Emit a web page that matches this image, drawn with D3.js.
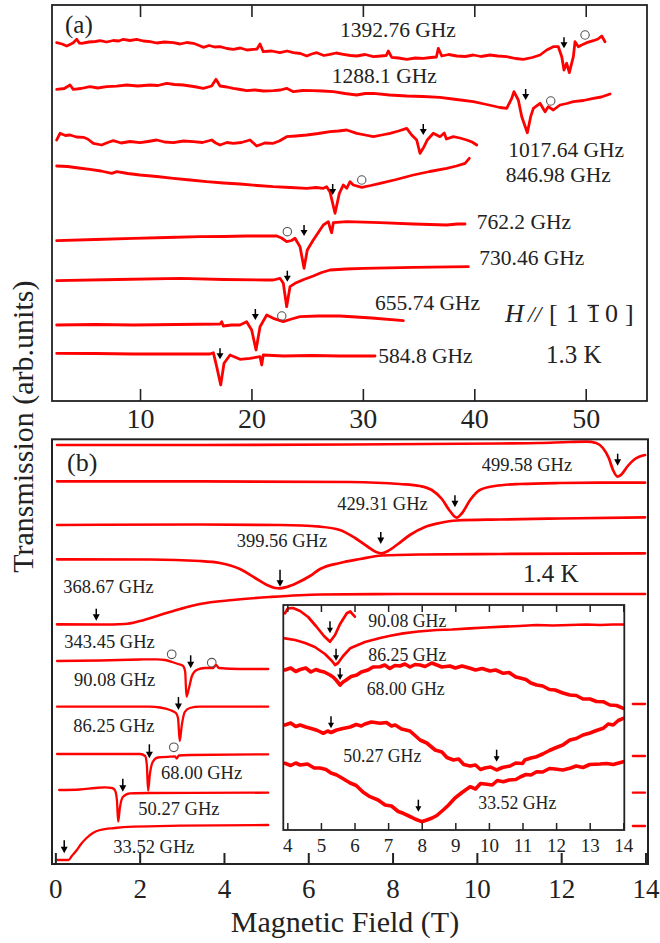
<!DOCTYPE html>
<html><head><meta charset="utf-8">
<script src="https://cdn.jsdelivr.net/npm/d3@7"></script>
<style>
body{margin:0;background:#fff}
svg{display:block}
text{font-family:"Liberation Serif","Times New Roman",serif;fill:#222}
</style>
</head><body><svg id="c" width="660" height="943"></svg>
<script>
// ---------------- DATA ----------------
// Panel (a): field (T), transmission (arb. units, offset per trace)
const aLabels = ["1392.76 GHz","1288.1 GHz","1017.64 GHz","846.98 GHz","762.2 GHz","730.46 GHz","655.74 GHz","584.8 GHz"];
const aTicks = [10,20,30,40,50];
const a1392 = [[2.52,358.3],[3.0,357],[3.42,355],[3.8,357],[4.01,358.3],[4.32,361.7],[4.55,358],[4.77,357.7],[5.4,359],[6.0,359.5],[6.41,360.3],[7.0,359],[7.6,360.5],[8.1,360],[8.5,361.7],[9.1,360.5],[9.7,361.7],[10.3,360],[10.9,359.3],[11.5,358],[12.2,359],[12.99,358.3],[13.6,357],[14.2,358.5],[14.78,357.7],[15.2,356],[15.68,353.7],[16.2,355.5],[16.7,354],[17.18,354.3],[17.8,352.5],[18.37,351.7],[19.0,353],[19.6,351],[20.17,351.7],[20.5,352],[20.77,357],[21.06,349.3],[21.8,350],[22.56,348.3],[23.2,350],[23.76,348.3],[24.4,347.5],[24.96,345],[25.4,347],[25.86,348.3],[26.5,345.5],[27.05,346.7],[27.6,348],[28.24,346.7],[28.9,345.5],[29.45,345],[30.2,346.5],[30.94,344.3],[31.6,345],[32.1,345.5],[32.28,350],[32.59,343.7],[33.2,343],[33.94,341.7],[34.7,343],[35.42,342.7],[36.1,343.5],[36.6,344],[36.77,352.7],[37.08,345],[37.7,346.5],[38.42,345],[39.2,344.5],[39.91,346],[40.6,344.5],[41.41,346],[42.1,345],[42.91,344.3],[43.7,342.5],[44.40,341.7],[45.2,343.5],[45.90,346],[46.50,351],[47.09,354.3],[47.54,354.3],[47.85,344.3],[48.05,331],[48.29,337.7],[48.53,328.3],[48.89,344.3],[49.04,359.3],[49.34,354.3],[49.64,356],[50.09,358.3],[50.68,360.3],[51.1,362],[51.44,365],[51.73,359.3]];
const a1288 = [[2.52,311.7],[3.2,312.5],[3.72,316],[4.01,311.7],[4.7,312.5],[5.51,314.3],[6.2,313],[7.01,314.3],[7.9,314.8],[8.80,316],[9.8,315],[10.90,316],[11.6,315.5],[12.39,317.7],[13.1,316.5],[13.88,316],[14.8,314.5],[15.68,312.7],[16.43,315],[16.82,321.7],[17.18,315],[17.8,314],[18.37,312.7],[19.0,311.5],[19.57,310.3],[20.3,311],[21.1,310],[21.96,310.3],[22.6,311],[23.16,312.7],[23.76,309.3],[24.6,310.5],[25.55,310.3],[26.4,310],[27.35,309.3],[28.4,307.5],[29.45,306],[30.2,307.5],[30.94,307.7],[32.4,306],[33.94,305],[35.4,304.5],[36.92,303.7],[38.4,301.5],[39.91,299.3],[40.9,297],[41.71,295],[42.3,293.5],[42.91,292.7],[43.36,302.7],[43.56,309.3],[43.95,301],[44.26,284.3],[44.76,268.3],[45.06,284.3],[45.30,292.7],[45.90,297.7],[46.35,289.3],[46.64,294.3],[47.09,291],[47.69,296],[48.3,297.5],[48.89,299.3],[49.8,300.5],[50.68,302.7],[51.4,304],[52.18,307]];
const a1017 = [[2.52,261],[2.82,267.7],[3.3,265.5],[3.72,266],[4.3,264],[4.91,263.7],[5.3,262],[5.81,257.7],[6.56,256],[7.1,258.5],[7.60,260.3],[8.3,258],[9.1,259.5],[10.0,258.3],[10.7,259.5],[11.5,261],[12.2,259],[12.99,258.3],[13.9,260],[14.78,259.3],[15.6,258.5],[16.43,261],[16.8,258],[17.18,256],[17.8,258.5],[18.37,257.7],[19.1,258.5],[19.87,261],[20.47,255],[21.2,258],[21.96,257.7],[22.5,260],[23.16,264.3],[24.0,265],[24.96,266],[26.0,267.5],[27.05,269.3],[27.8,270],[28.55,271],[29.45,267.7],[30.2,266],[30.94,264.3],[31.7,266],[32.44,267.7],[33.2,270],[33.94,272.7],[34.38,266],[34.83,261],[35.13,247.7],[35.49,254.3],[35.78,261],[36.32,267.7],[36.92,264.3],[37.3,268],[37.5,262],[38.12,264.3],[38.7,263],[39.32,261],[39.8,259],[40.22,256]];
const a847 = [[2.52,235],[3.5,234.5],[4.5,233],[5.51,231.7],[6.5,230],[7.46,227.7],[7.91,229.3],[8.9,227.5],[10.0,226],[11.5,224.5],[12.99,222.7],[14.5,221],[15.98,219.3],[17.5,218],[18.97,217],[20.5,215.5],[21.96,214.3],[23.5,213.5],[24.96,212.7],[25.8,213.5],[26.45,212.7],[26.75,214.3],[27.05,209],[27.50,187.7],[27.89,207.7],[28.24,216],[28.55,212.7],[28.85,219.3],[29.14,216],[29.90,213.7],[30.7,215.5],[31.54,217.7],[33.0,221.5],[34.53,226],[36.0,229.5],[37.52,232.7],[38.4,235],[39.17,237.7],[39.55,242.7]];
const a762 = [[2.52,160.3],[6.0,161.5],[9.40,162.7],[12.4,163.5],[15.38,164.3],[17.5,164.5],[19.57,165],[21.0,165],[22.27,165],[22.7,163],[23.16,159.3],[23.6,160.5],[23.91,162.7],[24.36,154.3],[24.72,132.7],[25.01,151],[25.55,161],[26.0,168.5],[26.45,176],[26.90,179.3],[27.08,172],[27.20,168.3],[27.35,178.3],[28.55,179.3],[31.54,178.3],[34.53,177],[37.52,176],[38.5,177],[39.17,177]];
const a730 = [[2.52,120.3],[8.0,121.5],[13.59,122.7],[17.5,121.5],[21.37,121],[21.96,121],[22.56,122.7],[22.86,117.7],[23.16,94.3],[23.46,114.3],[23.91,117.7],[24.7,121.5],[25.55,125],[26.3,128.5],[27.05,131],[28.5,132],[30.04,132.7],[34.53,133.7],[39.46,134.3]];
const a656 = [[2.52,76],[6.0,76.5],[9.40,76],[13.3,76.5],[17.18,77],[17.33,79.3],[17.47,75],[18.2,76],[18.97,76],[19.57,79.3],[20.02,71],[20.41,51],[20.77,74.3],[21.37,86],[21.96,82.7],[22.86,79.3],[23.6,82],[24.36,84.3],[26.0,85],[27.95,85],[30.8,83],[33.63,80.3]];
const a585 = [[2.52,47.7],[6.0,47.5],[9.40,47],[12.8,47],[16.28,47],[16.58,48.3],[16.88,34.3],[17.24,16],[17.54,37.7],[18.08,46],[18.97,41.7],[19.87,42.7],[20.77,44.3],[20.92,36],[21.06,46],[22.86,45],[25.4,45.5],[27.95,45],[31.09,45]];
const aArrows = [[48.05,352.7],[44.61,301],[35.42,266],[27.29,206],[24.72,165],[23.22,119.3],[20.35,81],[17.18,41.7]];
const aCircles = [[49.94,366],[46.86,300],[29.90,221],[23.22,169.3],[22.72,85]];

// Panel (b) main
const bLabels = ["499.58 GHz","429.31 GHz","399.56 GHz","368.67 GHz","343.45 GHz","90.08 GHz","86.25 GHz","68.00 GHz","50.27 GHz","33.52 GHz"];
const bTicks = [0,2,4,6,8,10,12,14];
const b500 = [[0.04,419],[3.43,419],[6.99,419.5],[10.54,420.5],[11.49,421],[12.21,422],[12.60,422.3],[12.83,421],[12.99,416],[13.13,406],[13.23,394],[13.34,387.3],[13.44,390],[13.58,398],[13.75,405],[13.99,409]];
const b429 = [[0.04,382.7],[3.43,382.7],[6.99,382],[8.17,380],[8.65,378],[8.93,374],[9.17,365],[9.36,353],[9.52,346.3],[9.65,351],[9.84,364],[10.07,374],[10.43,378],[11.02,380],[11.97,381],[12.92,381.3],[13.99,381.3]];
const b400 = [[0.04,339],[3.43,339.5],[5.33,339],[6.28,337.3],[6.75,334],[7.11,326],[7.42,317],[7.61,312],[7.74,310.7],[7.89,313],[8.13,320],[8.41,329],[8.77,337],[9.12,341],[9.52,343.5],[10.55,344.5],[11.97,345.5],[13.99,346.7]];
const b369 = [[0.04,304.7],[2.24,304.5],[3.43,303],[3.90,301],[4.38,295],[4.74,286],[5.02,279],[5.21,276],[5.33,275.7],[5.49,277],[5.73,281],[6.04,288],[6.28,295],[6.75,301],[7.23,305],[7.74,308.5],[8.65,309.5],[10.55,310],[13.99,310.7]];
const b343 = [[0.04,239.7],[1.06,239.5],[1.65,240],[2.01,243],[2.48,249],[2.96,255],[3.43,260],[4.21,264],[5.09,267],[6.28,269.5],[8.17,270],[10.55,270],[13.99,270]];
const b90 = [[0.04,203],[1.06,203.5],[2.01,204.5],[2.41,204.7],[2.60,204],[2.77,202],[2.91,200],[3.03,198],[3.08,192],[3.11,167.3],[3.17,176],[3.24,188],[3.35,194],[3.55,196],[3.74,196],[3.81,199],[3.88,196],[4.38,195],[5.05,195]];
const b86 = [[0.04,157.3],[2.24,157.3],[2.48,156.5],[2.72,154],[2.86,151],[2.91,146],[2.95,123],[3.00,139],[3.07,152],[3.19,156],[3.43,157.3],[5.05,157.3],null,[13.70,160],[13.99,160]];
const b68 = [[0.04,110],[2.01,110],[2.13,108],[2.17,99],[2.20,73.3],[2.24,89],[2.31,102],[2.43,106.5],[2.72,107.3],[2.84,107.5],[2.88,105.5],[2.93,108.5],[3.19,109],[5.05,109.7],null,[13.70,108],[13.99,108]];
const b50 = [[0.09,74],[0.58,74.5],[0.94,76],[1.18,76.7],[1.34,76],[1.41,74],[1.46,64],[1.49,42.3],[1.53,56],[1.60,67],[1.77,70.7],[2.24,71],[5.05,71.3],null,[13.70,71.3],[13.99,71.3]];
const b34 = [[0.05,4],[0.31,4],[0.39,8],[0.51,14],[0.61,20],[0.74,26],[0.89,31],[1.06,34],[1.41,36],[1.85,37.3],[2.96,38.3],[5.05,39],null,[13.70,38],[13.99,38]];
const bArrows = [[13.34,398.3,12],[9.48,356.7,12],[7.72,320,12],[5.33,277.3,17],[0.97,243.3,12],[3.21,195.7,13],[2.92,154,13],[2.23,105.7,14],[1.60,72.3,13],[0.21,10.7,13]];
const bCircles = [[2.76,209.7],[3.71,201.3],[2.81,116.7]];

// Inset
const iTicks = [4,5,6,7,8,9,10,11,12,13,14];
const i90 = [[3.93,216.7],[4.02,221.7],[4.17,222],[4.38,219],[4.62,213],[4.85,204],[5.09,194],[5.27,188.3],[5.42,195],[5.57,206],[5.77,216.7],[5.87,218.5],[6.01,213.3]];
const i86 = [[3.93,191.7],[4.23,190],[4.53,187],[4.82,183],[5.12,176],[5.33,169],[5.42,165],[5.51,167],[5.66,174],[5.87,181.7],[6.31,188],[6.76,192],[7.1,194.5],[7.45,196.7],[7.9,198.5],[8.45,200],[8.9,200.5],[9.44,201.7],[9.9,202.5],[10.43,203.3],[10.9,204],[11.42,205],[11.9,204.5],[12.41,205],[12.9,205.5],[13.31,205],[13.7,205.5],[14.0,205.5]];
const i68 = [[3.93,160],[4.1,162],[4.25,158.5],[4.38,160.5],[4.55,162],[4.7,158],[4.85,160.5],[4.97,159],[5.1,158],[5.27,155],[5.36,153],[5.45,150],[5.57,145],[5.66,148],[5.75,150],[5.9,153.5],[6.07,155],[6.2,158],[6.4,160],[6.55,163],[6.76,163.3],[6.9,165],[7.05,161.5],[7.2,164.5],[7.35,164],[7.5,166],[7.65,163],[7.8,165.5],[7.95,165],[8.1,163.5],[8.3,167],[8.45,165],[8.6,163],[8.84,164],[9.0,162],[9.2,164],[9.44,161.7],[9.6,160],[9.8,161.5],[10.03,159],[10.2,160],[10.43,156.7],[10.6,157.5],[10.8,153],[10.93,152],[11.1,150.5],[11.25,147],[11.42,145],[11.6,144],[11.8,140.5],[11.97,140],[12.2,137],[12.41,135],[12.6,134.5],[12.8,131],[13.01,131],[13.2,128.5],[13.4,128.3],[13.6,125],[13.8,124.5],[14.0,121.7]];
const i50 = [[3.93,105],[4.1,107],[4.25,103.5],[4.38,105],[4.55,103],[4.76,101],[4.9,99.5],[5.07,96.7],[5.2,99],[5.3,97.5],[5.47,100],[5.65,101.5],[5.87,103],[6.05,105.5],[6.2,104],[6.31,106],[6.5,108],[6.76,106.7],[6.95,107.5],[7.1,104],[7.21,105],[7.4,101],[7.65,99],[7.8,94.5],[7.95,90],[8.15,87],[8.4,80],[8.6,78],[8.75,72.5],[8.94,70],[9.1,71],[9.25,65.5],[9.44,64],[9.6,65],[9.75,60.5],[9.88,62],[10.05,63],[10.23,60],[10.4,62.5],[10.63,64],[10.8,67],[11.0,66.5],[11.07,70],[11.25,72],[11.42,73.3],[11.6,76],[11.8,79.5],[11.97,82],[12.2,85],[12.41,90],[12.6,91.5],[12.8,95],[13.01,97],[13.2,99.5],[13.4,101.7],[13.55,106],[13.7,105],[13.85,109.5],[14.0,111.7]];
const i34 = [[3.93,66.7],[4.1,64.5],[4.25,67],[4.38,65],[4.6,66],[4.8,62],[4.97,62],[5.15,60.5],[5.3,57],[5.47,55],[5.65,51.5],[5.87,47],[6.05,44.5],[6.25,38],[6.46,33.3],[6.7,30],[6.91,25],[7.1,24],[7.3,18.5],[7.45,16.7],[7.65,13.5],[7.8,11],[8.0,8.3],[8.15,10],[8.31,12],[8.45,14.5],[8.64,20],[8.8,25],[8.99,32],[9.2,37.5],[9.44,43.3],[9.6,41],[9.75,46.5],[9.88,46],[10.1,45],[10.25,49.5],[10.43,48.3],[10.6,50],[10.8,50.5],[10.93,53],[11.1,55.5],[11.25,55],[11.42,58.3],[11.6,58],[11.8,61.5],[11.97,61],[12.2,60],[12.41,61.7],[12.6,64],[12.8,62.5],[13.0,65.5],[13.31,66],[13.5,66.5],[13.7,65.5],[14.0,68.3]];
const iArrows = [[5.27,196.7],[5.45,169.3],[5.57,150],[5.30,101.7],[10.23,68.3],[7.90,18.3]];

// ---------------- DRAW ----------------
const svg = d3.select("#c");
const RED = "#ff0000";

const xA = d3.scaleLinear().domain([2.1, 55.5]).range([52, 647]);
const yA = d3.scaleLinear().domain([0, 396]).range([401, 5]);
const xB = d3.scaleLinear().domain([-0.08, 14.06]).range([52, 648]);
const yB = d3.scaleLinear().domain([0, 425]).range([864, 439]);
const xI = d3.scaleLinear().domain([3.88, 14.03]).range([283.3, 624.3]);
const yI = d3.scaleLinear().domain([0, 225]).range([830, 605]);

function trace(g, data, xs, ys, w, curve) {
  g.append("path").datum(data)
    .attr("fill","none").attr("stroke",RED).attr("stroke-width",w)
    .attr("stroke-linejoin","round").attr("stroke-linecap","round")
    .attr("d", d3.line().defined(d => d !== null).x(d => xs(d[0])).y(d => ys(d[1])).curve(curve || d3.curveLinear));
}
function arrow(g, x, yTip, len, hw, hh) {
  g.append("line").attr("x1",x).attr("x2",x).attr("y1",yTip-len).attr("y2",yTip-hh+1)
    .attr("stroke","#000").attr("stroke-width",1.5);
  g.append("path").attr("d",`M${x-hw},${yTip-hh}L${x+hw},${yTip-hh}L${x},${yTip}Z`).attr("fill","#000");
}
function circ(g, x, y, r) {
  g.append("circle").attr("cx",x).attr("cy",y).attr("r",r)
    .attr("fill","none").attr("stroke","#555").attr("stroke-width",1.1);
}
function label(g, x, y, txt, size) {
  g.append("text").attr("x",x).attr("y",y).attr("font-size",size).text(txt);
}

// ===== Panel (a) =====
const gA = svg.append("g");
[a1392,a1288,a1017,a847,a762,a730,a656,a585].forEach(d => trace(gA, d, xA, yA, 2.8));
aArrows.forEach(d => arrow(gA, xA(d[0]), yA(d[1]), 11, 3.5, 6));
aCircles.forEach(d => circ(gA, xA(d[0]), yA(d[1]), 4.2));

gA.append("g").attr("transform","translate(0,401)")
  .call(d3.axisBottom(xA).tickValues(aTicks).tickSizeInner(-12).tickSizeOuter(0).tickPadding(7.5))
  .call(g => { g.select(".domain").remove(); g.selectAll("line").attr("stroke","#222").attr("stroke-width",1.6);
               g.selectAll("text").attr("font-size",28).attr("font-family","Liberation Serif").attr("fill","#222"); });
gA.append("g").attr("transform","translate(0,5)")
  .call(d3.axisTop(xA).tickValues(aTicks).tickSizeInner(-12).tickSizeOuter(0).tickFormat(""))
  .call(g => { g.select(".domain").remove(); g.selectAll("line").attr("stroke","#222").attr("stroke-width",1.6); });
gA.append("rect").attr("x",52).attr("y",5).attr("width",595).attr("height",396)
  .attr("fill","none").attr("stroke","#222").attr("stroke-width",1.8);

const aLabelPos = [[340,36.7],[331.7,83.3],[508.3,157.3],[505.7,181.7],[476.7,229.3],[479.3,265],[375,310],[378.3,363.3]];
aLabels.forEach((t,i) => label(gA, aLabelPos[i][0], aLabelPos[i][1], t, 21.5));
label(gA, 65, 33, "(a)", 25);
// H // [1 -1 0]
const hx = gA.append("g");
hx.append("text").attr("x",505).attr("y",321.7).attr("font-size",26).attr("font-style","italic").text("H");
hx.append("text").attr("x",528).attr("y",321.7).attr("font-size",24).attr("font-style","italic").text("//");
hx.append("text").attr("x",549).attr("y",321.7).attr("font-size",26).text("[");
hx.append("text").attr("x",566).attr("y",321.7).attr("font-size",26).text("1");
hx.append("text").attr("x",587).attr("y",321.7).attr("font-size",26).text("1");
hx.append("line").attr("x1",587.5).attr("x2",599).attr("y1",305.5).attr("y2",305.5).attr("stroke","#222").attr("stroke-width",1.3);
hx.append("text").attr("x",605).attr("y",321.7).attr("font-size",26).text("0");
hx.append("text").attr("x",625).attr("y",321.7).attr("font-size",26).text("]");
label(gA, 546, 362.7, "1.3 K", 25);

// ===== Panel (b) =====
const gB = svg.append("g");
[b500,b429,b400,b369,b343].forEach(d => trace(gB, d, xB, yB, 2.7, d3.curveMonotoneX));
[b90,b86,b68,b50,b34].forEach(d => trace(gB, d, xB, yB, 2.3, d3.curveMonotoneX));
bArrows.forEach(d => arrow(gB, xB(d[0]), yB(d[1]), d[2], 3.5, 6.5));
bCircles.forEach(d => circ(gB, xB(d[0]), yB(d[1]), 4.3));

gB.append("g").attr("transform","translate(0,864)")
  .call(d3.axisBottom(xB).tickValues(bTicks).tickSizeInner(-11).tickSizeOuter(0).tickPadding(15))
  .call(g => { g.select(".domain").remove(); g.selectAll("line").attr("stroke","#222").attr("stroke-width",2);
               g.selectAll("text").attr("font-size",27).attr("font-family","Liberation Serif").attr("fill","#222"); });
gB.append("rect").attr("x",52).attr("y",439.3).attr("width",596).attr("height",424.7)
  .attr("fill","none").attr("stroke","#222").attr("stroke-width",2);

const bLabelPos = [[481.7,471],[337.3,510],[236.7,546.7],[63.3,593.3],[64.3,647.7],[74,686],[73.3,732.3],[161,779],[138.3,815.3],[113.3,852.7]];
bLabels.forEach((t,i) => label(gB, bLabelPos[i][0], bLabelPos[i][1], t, 18.5));
label(gB, 67, 471, "(b)", 26);
label(gB, 523, 581.7, "1.4 K", 25);

// ===== Inset =====
const gI = svg.append("g");
gI.append("rect").attr("x",283.3).attr("y",605).attr("width",341).attr("height",225)
  .attr("fill","#fff").attr("stroke","none");
[i90,i86].forEach(d => trace(gI, d, xI, yI, 2.7));
[i68,i50,i34].forEach(d => trace(gI, d, xI, yI, 3.6));
iArrows.forEach(d => arrow(gI, xI(d[0]), yI(d[1]), 12, 3, 5.5));
gI.append("g").attr("transform","translate(0,830)")
  .call(d3.axisBottom(xI).tickValues(iTicks).tickSizeInner(-7).tickSizeOuter(0).tickPadding(8.5))
  .call(g => { g.select(".domain").remove(); g.selectAll("line").attr("stroke","#222").attr("stroke-width",1.5);
               g.selectAll("text").attr("font-size",19).attr("font-family","Liberation Serif").attr("fill","#222"); });
gI.append("g").attr("transform","translate(0,605)")
  .call(d3.axisTop(xI).tickValues(iTicks).tickSizeInner(-7).tickSizeOuter(0).tickFormat(""))
  .call(g => { g.select(".domain").remove(); g.selectAll("line").attr("stroke","#222").attr("stroke-width",1.5); });
gI.append("rect").attr("x",283.3).attr("y",605).attr("width",341).attr("height",225)
  .attr("fill","none").attr("stroke","#222").attr("stroke-width",1.8);
const iLabelPos = [[368.3,626.7],[368.3,660.7],[366.7,695],[343.3,761.7],[478.3,809.3]];
["90.08 GHz","86.25 GHz","68.00 GHz","50.27 GHz","33.52 GHz"].forEach((t,i) => label(gI, iLabelPos[i][0], iLabelPos[i][1], t, 17.8));

// ===== Axis titles =====
svg.append("text").attr("x",345).attr("y",932).attr("text-anchor","middle").attr("font-size",30).text("Magnetic Field (T)");
svg.append("text").attr("transform","translate(33,426.7) rotate(-90)").attr("text-anchor","middle").attr("font-size",30).text("Transmission (arb.units)");
</script>
</body></html>
